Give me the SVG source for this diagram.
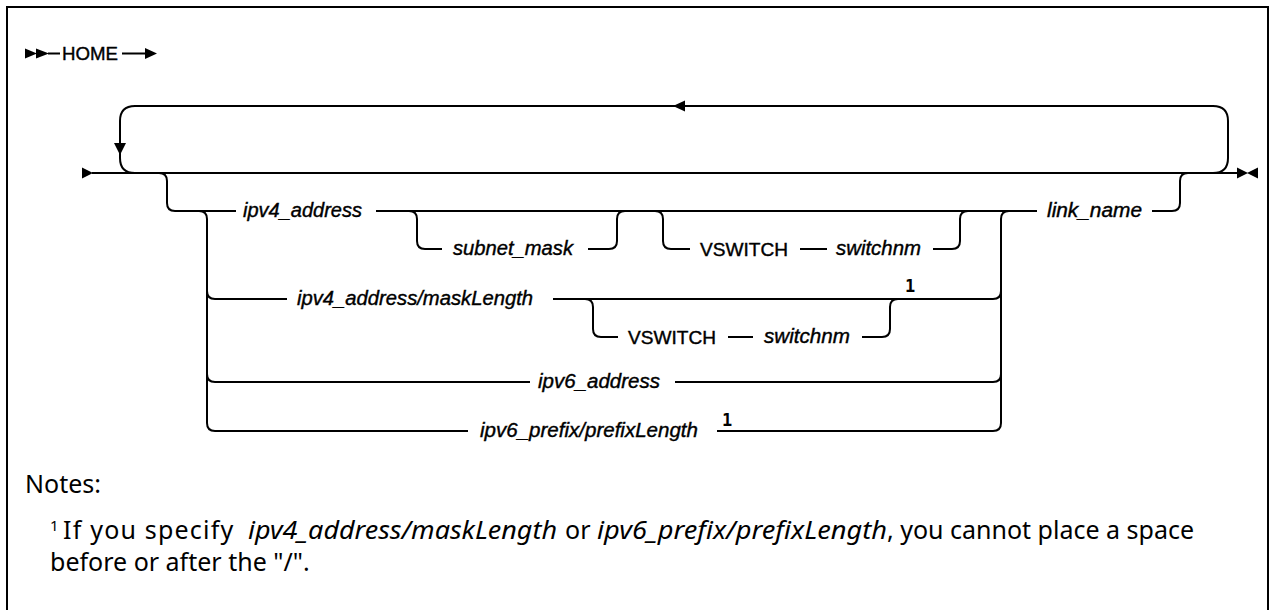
<svg xmlns="http://www.w3.org/2000/svg" width="1274" height="610" viewBox="0 0 1274 610">
<style>
.ln{fill:none;stroke:#000;stroke-width:2}
.ah{fill:#000;stroke:none}
.kw{font-family:"Liberation Sans",Arial,sans-serif;font-size:19px;fill:#000;stroke:#000;stroke-width:0.4}
.var{font-family:"Liberation Sans",Arial,sans-serif;font-size:20px;font-style:italic;fill:#000;stroke:#000;stroke-width:0.4}
.fn{font-family:"DejaVu Sans Mono","Liberation Mono",monospace;font-size:17px;font-weight:bold;fill:#000}
.nt{font-family:"Noto Sans","Open Sans",sans-serif;font-size:25px;fill:#000}
.nti{font-family:"Noto Sans","Open Sans",sans-serif;font-size:25px;font-style:italic;fill:#000}
.sup{font-family:"Noto Sans","Open Sans",sans-serif;font-size:15px;fill:#000}
</style>
<rect x="7" y="7" width="1261" height="620" fill="#fff" stroke="#000" stroke-width="2"/>
<g id="connectors">
  <path class="ln" d="M48 53.5 H60 M122 53.5 H147"/>
  <polygon class="ah" points="25,48.5 25,58.5 37,53.5"/>
  <polygon class="ah" points="36,48.5 36,58.5 49,53.5"/>
  <polygon class="ah" points="145,48 145,59 157,53.5"/>
  <path class="ln" d="M92 173 H1238"/>
  <polygon class="ah" points="82,167.5 82,178.5 93,173"/>
  <polygon class="ah" points="1237,167.5 1237,178.5 1248,173"/>
  <polygon class="ah" points="1258,167.5 1258,178.5 1247,173"/>
  <path class="ln" d="M1213 173 Q1228 173 1228 158 V121 Q1228 106 1213 106 H135 Q120 106 120 121 V158 Q120 173 135 173"/>
  <polygon class="ah" points="114,143 126,143 120,155"/>
  <polygon class="ah" points="673,106 685,100.5 685,111.5"/>
  <path class="ln" d="M159 173 Q167 173 167 181 V203 Q167 211 175 211 H236"/>
  <path class="ln" d="M376 211 H1037"/>
  <path class="ln" d="M1152 211 H1172 Q1180 211 1180 203 V181 Q1180 173 1188 173"/>
  <path class="ln" d="M199 211 Q207 211 207 219 V423 Q207 431 215 431 H468"/>
  <path class="ln" d="M717 431 H993 Q1001 431 1001 423 V219 Q1001 211 1009 211"/>
  <path class="ln" d="M207 291 Q207 299 215 299 H287"/>
  <path class="ln" d="M553 299 H993 Q1001 299 1001 291"/>
  <path class="ln" d="M207 374 Q207 382 215 382 H530"/>
  <path class="ln" d="M675 382 H993 Q1001 382 1001 374"/>
  <path class="ln" d="M409 211 Q417 211 417 219 V241 Q417 249 425 249 H442"/>
  <path class="ln" d="M588 249 H609 Q617 249 617 241 V219 Q617 211 625 211"/>
  <path class="ln" d="M655 211 Q663 211 663 219 V241 Q663 249 671 249 H690"/>
  <path class="ln" d="M800 249 H827"/>
  <path class="ln" d="M933 249 H952 Q960 249 960 241 V219 Q960 211 968 211"/>
  <path class="ln" d="M585 299 Q593 299 593 307 V329 Q593 337 601 337 H618"/>
  <path class="ln" d="M728 337 H753"/>
  <path class="ln" d="M862 337 H882 Q890 337 890 329 V307 Q890 299 898 299"/>
</g>
<g id="home"><text class="kw" x="62" y="60" textLength="56" lengthAdjust="spacingAndGlyphs">HOME</text></g>
<g id="ipv4_address"><text class="var" x="243" y="217" textLength="119" lengthAdjust="spacingAndGlyphs">ipv4_address</text></g>
<g id="subnet_mask"><text class="var" x="453" y="255" textLength="120" lengthAdjust="spacingAndGlyphs">subnet_mask</text></g>
<g id="vswitch1"><text class="kw" x="700" y="255.5" textLength="88" lengthAdjust="spacingAndGlyphs">VSWITCH</text></g>
<g id="switchnm1"><text class="var" x="836" y="255" textLength="85" lengthAdjust="spacingAndGlyphs">switchnm</text></g>
<g id="link_name"><text class="var" x="1047" y="217" textLength="95" lengthAdjust="spacingAndGlyphs">link_name</text></g>
<g id="ipv4_masklength"><text class="var" x="297" y="305" textLength="236" lengthAdjust="spacingAndGlyphs">ipv4_address/maskLength</text></g>
<g id="note_ref1"><text class="fn" x="905" y="292">1</text></g>
<g id="vswitch2"><text class="kw" x="628" y="343.5" textLength="88" lengthAdjust="spacingAndGlyphs">VSWITCH</text></g>
<g id="switchnm2"><text class="var" x="764" y="343" textLength="86" lengthAdjust="spacingAndGlyphs">switchnm</text></g>
<g id="ipv6_address"><text class="var" x="538" y="388" textLength="122" lengthAdjust="spacingAndGlyphs">ipv6_address</text></g>
<g id="ipv6_prefix"><text class="var" x="480" y="437" textLength="218" lengthAdjust="spacingAndGlyphs">ipv6_prefix/prefixLength</text></g>
<g id="note_ref2"><text class="fn" x="722" y="425.5">1</text></g>
<g id="notes">
  <text class="nt" x="25" y="493">Notes:</text>
  <text class="sup" x="50" y="531">1</text>
  <text class="nt" x="63" y="539" letter-spacing="1.2">If you specify</text>
  <text class="nti" x="248" y="539" textLength="309" lengthAdjust="spacingAndGlyphs">ipv4_address/maskLength</text>
  <text class="nt" x="565" y="539">or</text>
  <text class="nti" x="597" y="539" textLength="290" lengthAdjust="spacingAndGlyphs">ipv6_prefix/prefixLength</text>
  <text class="nt" x="887" y="539">, you cannot place a space</text>
  <text class="nt" x="50" y="571">before or after the "/".</text>
</g>
</svg>
